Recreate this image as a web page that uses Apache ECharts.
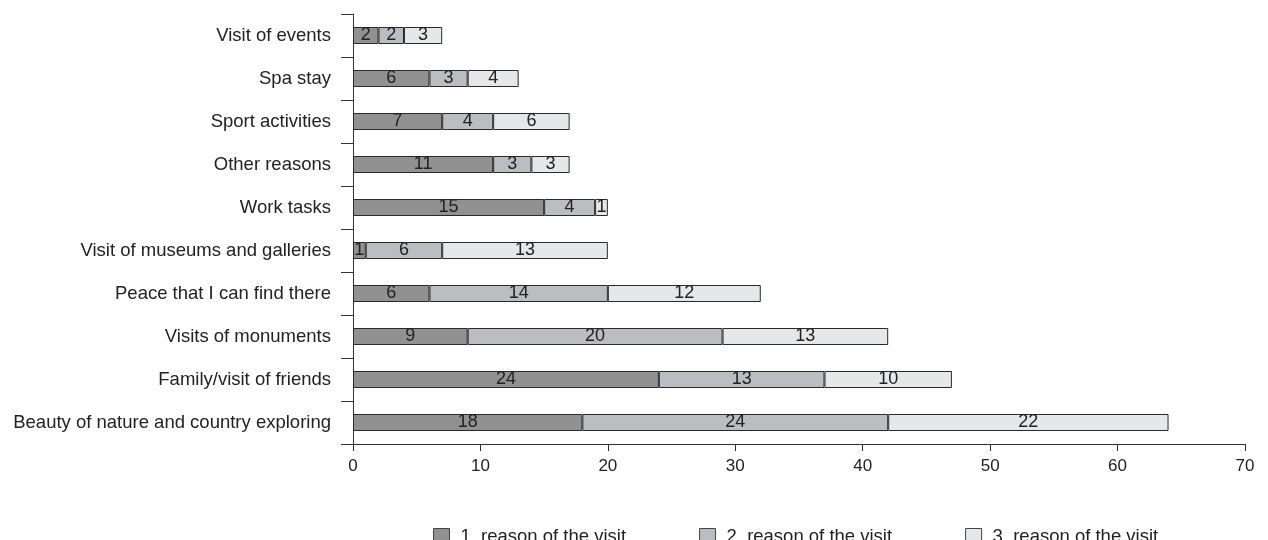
<!DOCTYPE html>
<html><head><meta charset="utf-8">
<script src="https://cdn.jsdelivr.net/npm/echarts@6/dist/echarts.min.js"></script>
<style>html,body{margin:0;padding:0;background:#fff}#c{width:1268px;height:540px}</style>
</head><body><div id="c"></div>
<script>
const categories = ["Beauty of nature and country exploring","Family/visit of friends","Visits of monuments","Peace that I can find there","Visit of museums and galleries","Work tasks","Other reasons","Sport activities","Spa stay","Visit of events"];
const reason1 = [18,24,9,6,1,15,11,7,6,2];
const reason2 = [24,13,20,14,6,4,3,4,3,2];
const reason3 = [22,10,13,12,13,1,3,6,4,3];
const seriesNames = ["1. reason of the visit","2. reason of the visit","3. reason of the visit"];
const xTicks = {min:0,max:70,interval:10};
const colors = ["#919191","#bcbdc0","#e6e7e8"];
const font = "Liberation Sans, Arial, sans-serif";
const chart = echarts.init(document.getElementById('c'), null, {renderer:'canvas'});
const mk = (name, data, i) => ({
  name, type:'bar', stack:'total', data, barWidth:17,
  itemStyle:{color:colors[i], borderColor:'#2a2a2a', borderWidth:1},
  label:{show:true, position:'inside', color:'#222', fontSize:18, fontFamily:font},
  emphasis:{disabled:true}
});
chart.setOption({
  animation:false,
  textStyle:{fontFamily:font},
  grid:{left:353,right:23,top:14,bottom:96},
  legend:{left:433,top:527,padding:0,itemWidth:16,itemHeight:16,itemGap:73,icon:'rect',
    textStyle:{fontSize:18.5,color:'#222',fontFamily:font,padding:[0,0,0,6]},
    itemStyle:{borderColor:'#444',borderWidth:1},
    data:seriesNames},
  xAxis:{type:'value',min:xTicks.min,max:xTicks.max,interval:xTicks.interval,
    splitLine:{show:false},
    axisLine:{show:true,lineStyle:{color:'#333',width:1}},
    axisTick:{show:true,length:7,lineStyle:{color:'#333'}},
    axisLabel:{fontSize:17,color:'#222',margin:14,fontFamily:font}},
  yAxis:{type:'category',data:categories,
    axisLine:{show:true,lineStyle:{color:'#333',width:1}},
    axisTick:{show:true,length:12,lineStyle:{color:'#333'}},
    axisLabel:{fontSize:18.5,color:'#222',margin:22,fontFamily:font}},
  series:[mk(seriesNames[0],reason1,0),mk(seriesNames[1],reason2,1),mk(seriesNames[2],reason3,2)]
});
</script></body></html>
